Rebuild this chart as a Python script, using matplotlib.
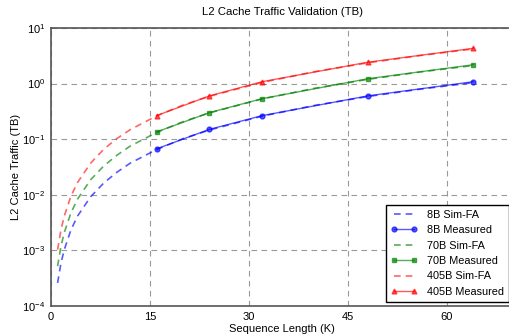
import matplotlib
matplotlib.use("Agg")
import matplotlib.pyplot as plt

plt.rcParams['font.family'] = ['Liberation Sans', 'DejaVu Sans']
plt.rcParams['mathtext.fontset'] = 'custom'
plt.rcParams['mathtext.rm'] = 'Liberation Sans'
plt.rcParams['mathtext.it'] = 'Liberation Sans:italic'

# Simulated (Sim-FA) curves
sim_x = [1, 1.5, 2, 3, 4, 6, 8, 10, 12, 16, 20, 24, 32, 40, 48, 56, 64]
sim_8b = [2.6e-4, 5.8e-4, 1.02e-3, 2.3e-3, 4.1e-3, 9.2e-3, 0.0163, 0.0255, 0.037,
          0.065, 0.102, 0.146, 0.26, 0.405, 0.585, 0.795, 1.04]
sim_70b = [5.2e-4, 1.17e-3, 2.07e-3, 4.65e-3, 8.3e-3, 0.0186, 0.033, 0.0516, 0.075,
           0.132, 0.206, 0.297, 0.53, 0.825, 1.19, 1.62, 2.11]
sim_405b = [1.03e-3, 2.3e-3, 4.1e-3, 9.3e-3, 0.0165, 0.037, 0.066, 0.103, 0.148,
            0.262, 0.41, 0.59, 1.05, 1.64, 2.36, 3.2, 4.2]

# Measured points
meas_x = [16, 24, 32, 48, 64]
meas_8b = [0.067, 0.150, 0.265, 0.60, 1.08]
meas_70b = [0.135, 0.30, 0.535, 1.22, 2.18]
meas_405b = [0.265, 0.60, 1.08, 2.42, 4.3]

fig = plt.figure(figsize=(5.1, 3.35), dpi=100)
ax = fig.add_axes([0.1, 0.0866, 0.906, 0.83])

dash = (4, 3)
ax.plot(sim_x, sim_8b, '--', dashes=dash, color='blue', alpha=0.65, lw=1.2,
        label='8B Sim-FA')
ax.plot(meas_x, meas_8b, '-o', color='blue', alpha=0.65, lw=1, ms=3.5,
        mec='blue', label='8B Measured')
ax.plot(sim_x, sim_70b, '--', dashes=dash, color='green', alpha=0.65, lw=1.2,
        label='70B Sim-FA')
ax.plot(meas_x, meas_70b, '-s', color='green', alpha=0.65, lw=1, ms=3.5,
        mec='green', label='70B Measured')
ax.plot(sim_x, sim_405b, '--', dashes=dash, color='red', alpha=0.6, lw=1.2,
        label='405B Sim-FA')
ax.plot(meas_x, meas_405b, '-^', color='red', alpha=0.65, lw=1, ms=3.5,
        mec='red', label='405B Measured')

ax.set_yscale('log')
ax.set_xlim(0, 70)
ax.set_ylim(1e-4, 10)
ax.set_xticks([0, 15, 30, 45, 60])
ax.grid(True, linestyle=(0, (5, 4)), color='gray', alpha=0.8, lw=0.8)
ax.tick_params(length=0, labelsize=8, pad=4)
ax.tick_params(which='minor', length=0)
for s in ax.spines.values():
    s.set_color('#555555')
    s.set_linewidth(1.2)

ax.set_title('L2 Cache Traffic Validation (TB)', fontsize=8.2, pad=9)
ax.set_xlabel('Sequence Length (K)', fontsize=8, labelpad=2)
ax.set_ylabel('L2 Cache Traffic (TB)', fontsize=8, labelpad=1)

leg = ax.legend(loc='lower right', fontsize=7.8, numpoints=2, fancybox=False,
                framealpha=1, borderaxespad=0.4, handlelength=2.4,
                labelspacing=0.5, borderpad=0.45, handletextpad=0.9)
leg.get_frame().set_edgecolor('black')

fig.savefig('out.png', dpi=100)
